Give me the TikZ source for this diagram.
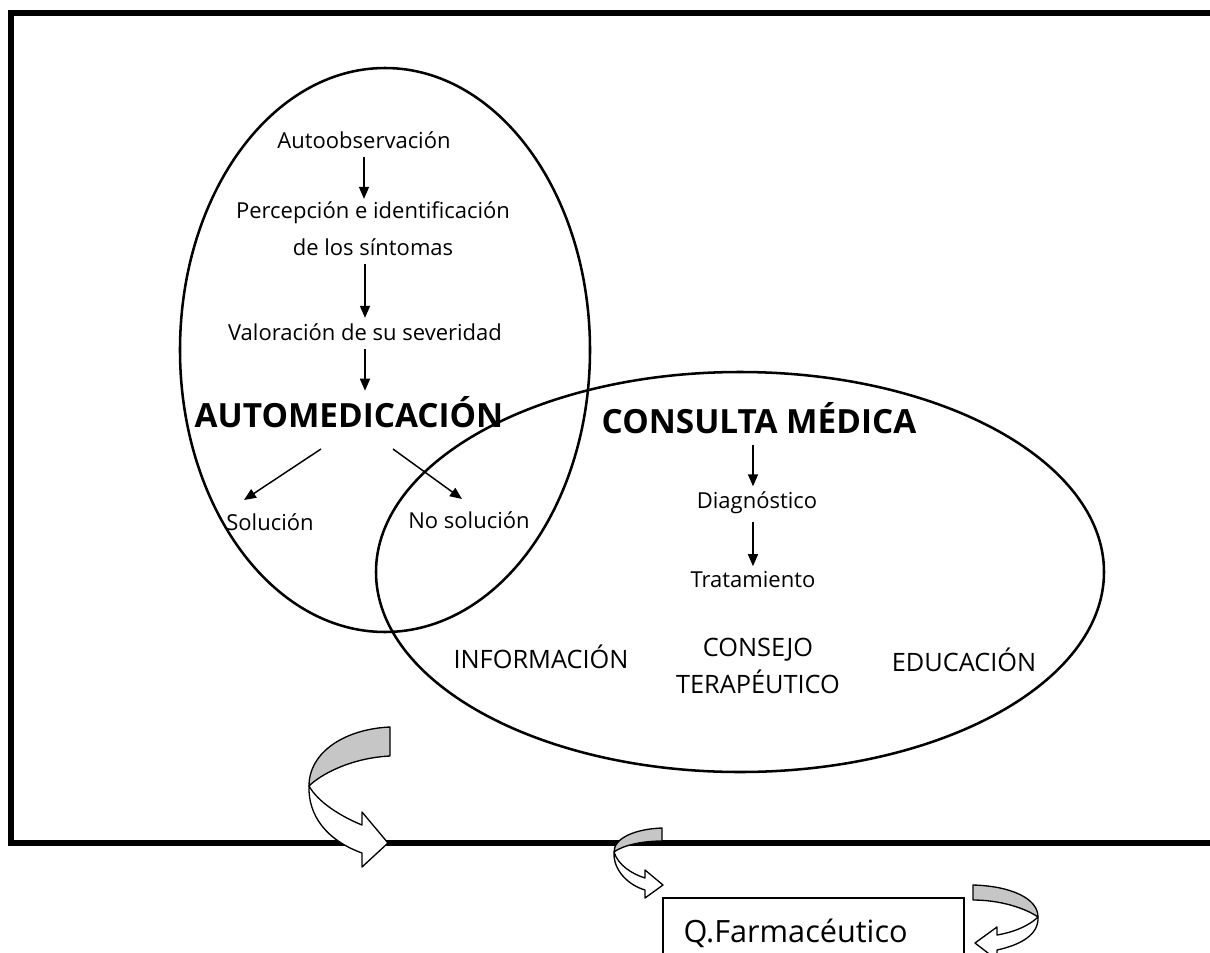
\documentclass[tikz,border=0pt]{standalone}
\usepackage{fontspec}
\setmainfont{Open Sans}
\usetikzlibrary{arrows.meta}
\begin{document}
\begin{tikzpicture}[x=0.75pt,y=-0.75pt,
  lbl/.style={font=\fontsize{16.5}{28}\selectfont, inner sep=0pt, align=center},
  title/.style={font=\fontsize{25}{30}\selectfont\bfseries, inner sep=0pt},
  caps/.style={font=\fontsize{19}{28}\selectfont, inner sep=0pt, align=center},
  arr/.style={line width=1.1pt, -{Triangle[length=9pt,width=7.5pt]}},
  oval/.style={draw, line width=1.9pt},
  band/.style={draw, line width=1pt, line join=round},
  frame/.style={line width=3.8pt},
]
\useasboundingbox (0,0) rectangle (1210,953);
\begin{scope}
\clip (0,0) rectangle (1210,953);
% outer frame (open to the right)
\draw[frame] (1230,13) -- (11,13) -- (11,843) -- (1230,843);
% ovals
\draw[oval] (385,350) ellipse [x radius=205, y radius=282];
\draw[oval] (740,572) ellipse [x radius=364, y radius=200];
% left chain
\node[lbl] (ao) at (364,140) {Autoobservación};
\node[lbl] (pe) at (373,229) {Percepción e identificación\\de los síntomas};
\node[lbl] (va) at (365,332) {Valoración de su severidad};
\node[title] (am) at (349,412) {AUTOMEDICACIÓN};
\node[lbl] (so) at (270,522) {Solución};
\node[lbl] (ns) at (469,520) {No solución};
\draw[arr, shorten <=6pt, shorten >=2pt] (ao.south) -- (ao.south |- pe.north);
\draw[arr, shorten <=6pt, shorten >=4pt] (pe.south -| va.north) -- (va.north);
\draw[arr, shorten <=6pt, shorten >=4pt] (va.south) -- (va.south |- am.north);
\coordinate (d1s) at (321,449);
\coordinate (d1e) at (244,500);
\coordinate (d2s) at (393,449);
\coordinate (d2e) at (462,499);
\draw[arr] (d1s) -- (d1e);
\draw[arr] (d2s) -- (d2e);
% right chain
\node[title] (cm) at (759,418) {CONSULTA MÉDICA};
\node[lbl] (di) at (757,503) {Diagnóstico};
\node[lbl] (tr) at (753,580) {Tratamiento};
\draw[arr, shorten <=8pt, shorten >=4pt] (cm.south -| tr.north) -- (di.north -| tr.north);
\draw[arr, shorten <=6pt, shorten >=4pt] (di.south -| tr.north) -- (tr.north);
\node[caps] (in) at (541,657) {INFORMACIÓN};
\node[caps] (ct) at (758,666) {CONSEJO\\TERAPÉUTICO};
\node[caps] (ed) at (964,660) {EDUCACIÓN};
% big curved arrow
\filldraw[band, fill=gray!45] (390,727) .. controls (345,729) and (309,752) .. (309,786)
  .. controls (320,775) and (350,758) .. (390,756) -- cycle;
\filldraw[band, fill=white] (309,786) .. controls (308,815) and (326,840) .. (362,853)
  -- (362,867) -- (388,843) -- (362,812) -- (362,825)
  .. controls (340,816) and (318,802) .. (309,786) -- cycle;
% small curved arrow
\filldraw[band, fill=gray!45] (662,828) .. controls (635,829) and (614,838) .. (614,852)
  .. controls (622,846) and (640,841) .. (662,841) -- cycle;
\filldraw[band, fill=white] (614,852) .. controls (613,870) and (628,885) .. (645,890)
  -- (645,898) -- (663,885) -- (645,870) -- (645,878)
  .. controls (632,874) and (618,865) .. (614,852) -- cycle;
% pharmacist box
\node[draw, line width=1.5pt, anchor=north west, minimum width=225.75pt,
  minimum height=52.5pt, inner xsep=14pt, text width=195pt, align=left,
  font=\fontsize{23}{28}\selectfont] (qf) at (662,897) {Q.Farmacéutico};
% right curved arrow (pointing back to the box)
\filldraw[band, fill=gray!45] (973,885) .. controls (1010,886) and (1038,898) .. (1038,917)
  .. controls (1025,908) and (1000,900) .. (973,900) -- cycle;
\filldraw[band, fill=white] (1038,917) .. controls (1039,935) and (1020,945) .. (997,950)
  -- (997,960) -- (975,943) -- (997,927) -- (997,935)
  .. controls (1015,932) and (1030,925) .. (1038,917) -- cycle;
\end{scope}
\end{tikzpicture}
\end{document}
